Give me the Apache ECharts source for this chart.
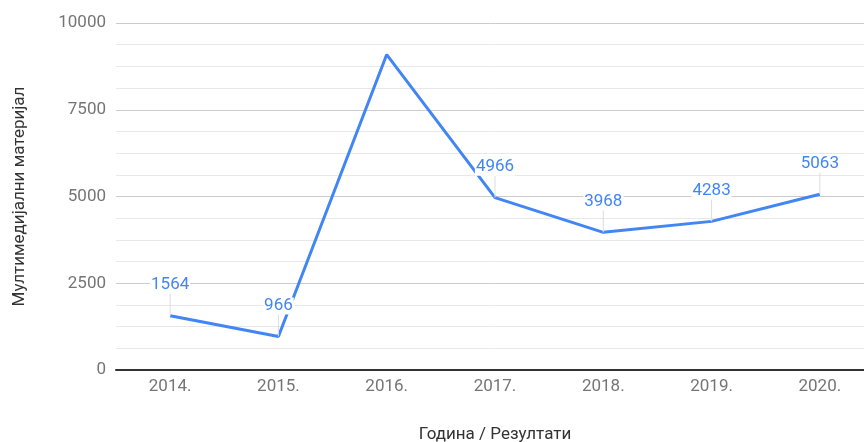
<!DOCTYPE html>
<html>
<head>
<meta charset="utf-8">
<script src="https://cdn.jsdelivr.net/npm/echarts@6/dist/echarts.min.js"></script>
<style>
	html, body { margin: 0; padding: 0; background: #fff; }
	#chart { width: 864px; height: 442px; }
</style>
</head>
<body>
<div id="chart"></div>
<script>
	var years = ['2014.', '2015.', '2016.', '2017.', '2018.', '2019.', '2020.'];
	var values = [1564, 966, 9090, 4966, 3968, 4283, 5063];
	var yTicks = [0, 2500, 5000, 7500, 10000];

	var blue = '#4285f4';
	var grey = '#757575';

	var chart = echarts.init(document.getElementById('chart'));
	var option = {
		textStyle: { fontFamily: 'Roboto' },
		grid: {
			left: 116,
			right: -10,
			top: 23,
			bottom: 72,
			outerBoundsMode: 'none'
		},
		xAxis: {
			type: 'category',
			data: years,
			name: 'Година / Резултати',
			nameLocation: 'middle',
			nameGap: 56,
			nameTextStyle: { color: '#333', fontSize: 17 },
			axisLine: { lineStyle: { color: '#333', width: 2 } },
			axisTick: { show: false },
			axisLabel: { color: grey, fontSize: 17, margin: 8 }
		},
		yAxis: {
			type: 'value',
			min: yTicks[0],
			max: yTicks[yTicks.length - 1],
			interval: 2500,
			name: 'Мултимедијални материјал',
			nameLocation: 'middle',
			nameGap: 88,
			nameTextStyle: { color: '#333', fontSize: 17 },
			axisLine: { show: false },
			axisTick: { show: false },
			axisLabel: {
				color: grey,
				fontSize: 17,
				margin: 10,
				formatter: function (v) { return String(v); }
			},
			splitLine: { lineStyle: { color: '#cccccc', width: 1 } },
			minorTick: { show: false, splitNumber: 4 },
			minorSplitLine: { show: true, lineStyle: { color: '#e8e8e8', width: 1 } }
		},
		series: [
			{
				type: 'line',
				data: values.map(function (v, i) {
					return {
						value: v,
						label: { show: i !== 2 }
					};
				}),
				symbol: 'circle',
				symbolSize: 0.1,
				showSymbol: true,
				lineStyle: { color: blue, width: 3 },
				itemStyle: { color: blue },
				label: {
					show: true,
					position: 'top',
					distance: 0,
					color: blue,
					fontSize: 17,
					backgroundColor: '#fff',
					padding: [0, 1]
				},
				labelLayout: { dy: -22 },
				labelLine: {
					show: true,
					lineStyle: { color: '#dddddd', width: 1 }
				}
			}
		]
	};
	chart.setOption(option);
</script>
</body>
</html>
